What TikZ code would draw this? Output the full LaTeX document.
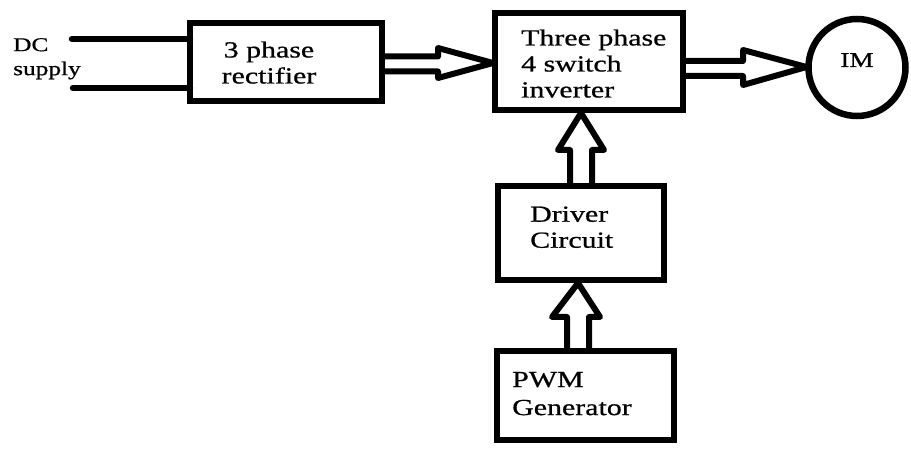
\documentclass[tikz,border=0pt]{standalone}
\usepackage{fontspec}
\setmainfont{Liberation Serif}[FakeStretch=1.3,FakeBold=0.8]
\usetikzlibrary{calc,shapes.geometric}
\tikzset{
  blk/.style={draw, line width=6.5pt, inner sep=0pt, outer sep=0pt, minimum width=#1},
  wire/.style={line width=6.5pt, line cap=round},
  hol/.style={line width=6pt, line join=round, line cap=round},
  lbl/.style={inner sep=0pt, align=left, font=\fontsize{23}{26}\selectfont},
  small/.style={inner sep=0pt, align=left, font=\fontsize{19.5}{24}\selectfont}
}
\begin{document}
\begin{tikzpicture}[x=1pt,y=-1pt]
\useasboundingbox (0,0) rectangle (911,449);
% blocks
\node[blk=192pt, minimum height=78pt] (rect) at (286,62) {};
\node[blk=188pt, minimum height=97pt] (inv) at (589,61.5) {};
\node[blk=166pt, minimum height=94pt] (drv) at (581,233) {};
\node[blk=177pt, minimum height=89pt] (pwm) at (585.5,395.5) {};
\node[draw, circle, line width=6.5pt, inner sep=0pt, outer sep=0pt,
      minimum size=97pt] (im) at (857,67.5) {};
% labels
\node[small, anchor=north west] (dclbl) at (13,38) {DC\\supply};
\node[lbl, anchor=north, align=center] (rectlbl) at (269,41.3) {3 phase\\rectifier};
\node[lbl, anchor=north west] (invlbl) at (521,29.3) {Three phase\\4 switch\\inverter};
\node[lbl, anchor=north west] (drvlbl) at (530,206.3) {Driver\\Circuit};
\node[lbl, anchor=north west, font=\fontsize{23}{28}\selectfont] (pwmlbl) at (512,371.8) {PWM\\Generator};
\node[inner sep=0pt, anchor=base, font=\fontsize{21}{24}\selectfont] (imlbl) at (857,67) {IM};
% DC supply wires
\coordinate (dcA) at (72,39);
\coordinate (dcB) at (73,88);
\draw[wire] (dcA) -- (dcA -| rect.west);
\draw[wire] (dcB) -- (dcB -| rect.west);
% hollow arrows
\draw[hol] ($(rect.east)+(0,-5.5)$) -- ++(56,0) -- ++(0,-8.5)
  -- ($(inv.west)+(-2,1.5)$) -- ($(rect.east)+(56,16)$) -- ++(0,-6.5)
  -- ($(rect.east)+(0,9.5)$);
\draw[hol] ($(inv.east)+(0,-0.5)$) -- ++(60,0) -- ++(0,-11)
  -- ($(im.west)+(-2,-0.5)$) -- ($(inv.east)+(60,23.5)$) -- ++(0,-9)
  -- ($(inv.east)+(0,14.5)$);
\draw[hol] ($(drv.north)+(-11,0)$) -- ++(0,-36) -- ++(-12,0)
  -- ($(inv.south)+(-8,3)$) -- ($(drv.north)+(23,-36)$) -- ++(-12,0)
  -- ($(drv.north)+(11,0)$);
\draw[hol] ($(pwm.north)+(-18.5,0)$) -- ++(0,-34) -- ++(-15,0)
  -- ($(drv.south)+(-3,3)$) -- ($(pwm.north)+(14.5,-34)$) -- ++(-11,0)
  -- ($(pwm.north)+(3.5,0)$);
\end{tikzpicture}
\end{document}
